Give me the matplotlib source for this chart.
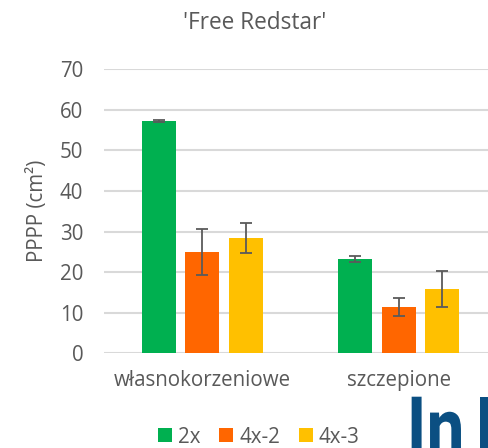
import matplotlib
matplotlib.use("Agg")
import matplotlib.pyplot as plt
import numpy as np
from matplotlib.textpath import TextPath
from matplotlib.font_manager import FontProperties
from matplotlib.patches import PathPatch
from matplotlib.transforms import Affine2D

categories = ["własnokorzeniowe", "szczepione"]
series = ["2x", "4x-2", "4x-3"]
values = {
    "2x": [57.3, 23.2],
    "4x-2": [25.0, 11.4],
    "4x-3": [28.4, 15.8],
}
errors = {
    "2x": [0.2, 0.8],
    "4x-2": [5.6, 2.3],
    "4x-3": [3.7, 4.4],
}
colors = {"2x": "#00B050", "4x-2": "#FF6600", "4x-3": "#FFC000"}
yticks = [0, 10, 20, 30, 40, 50, 60, 70]

plt.rcParams['font.family'] = ['Open Sans', 'DejaVu Sans']
TXT = "#595959"
FS = 14.8

W, H = 489, 448
fig = plt.figure(figsize=(W / 100, H / 100), dpi=100)
ax = fig.add_axes([104 / W, (H - 353.3) / H, 393 / W, 284 / H])

x = np.arange(len(categories))
offs = [-0.2214, 0.0, 0.2214]
bw = 0.173
handles = []
for s, o in zip(series, offs):
    b = ax.bar(x + o, values[s], bw, color=colors[s], zorder=3, label=s)
    ax.errorbar(x + o, values[s], yerr=errors[s], fmt='none', ecolor="#5a5a5a",
                elinewidth=1.3, capsize=4.2, capthick=1.3, zorder=4)
    handles.append(b)

ax.set_xlim(-0.5, 1.5)
ax.set_ylim(0, 70)
ax.set_yticks(yticks)
ax.set_yticklabels([str(t) for t in yticks], fontsize=FS, color=TXT)
ax.set_xticks(x)
ax.set_xticklabels(categories, fontsize=FS, color=TXT)
ax.tick_params(axis='both', length=0)
ax.tick_params(axis='y', pad=15)
ax.tick_params(axis='x', pad=12)
ax.grid(axis='y', color="#d9d9d9", linewidth=1.5, zorder=0)
for sp in ax.spines.values():
    sp.set_visible(False)
ax.set_ylabel("PPPP (cm²)", fontsize=FS, color=TXT, labelpad=8.5)

fig.text(255 / W, 1 - 23 / H, "'Free Redstar'", ha='center', va='center',
         fontsize=16.3, color=TXT)

leg = fig.legend(handles=handles, labels=series, loc='center',
                 bbox_to_anchor=(259 / W, 1 - 437 / H), ncol=3, frameon=False,
                 fontsize=FS, handlelength=0.68, handleheight=0.68,
                 handletextpad=0.3, columnspacing=0.9, labelcolor=TXT,
                 borderpad=0)

# partial logo in the bottom-right corner (condensed bold letters, clipped by the edge)
fp = FontProperties(family='Roboto', weight='bold')

def logo_piece(txt, left_px, top_px, size=87, sx=0.78):
    tp = TextPath((0, 0), txt, size=size, prop=fp)
    v = tp.vertices
    xmin, ymax = v[:, 0].min(), v[:, 1].max()
    tr = (Affine2D().translate(-xmin, -ymax).scale(sx, 1.0)
          .translate(left_px, H - top_px))
    patch = PathPatch(tr.transform_path(tp), facecolor="#0b4f82",
                      edgecolor='none', transform=None)
    fig.add_artist(patch)

logo_piece("In", 406.7, 396.7)
logo_piece("I", 475.0, 396.7)

fig.savefig("out.png", dpi=100)
